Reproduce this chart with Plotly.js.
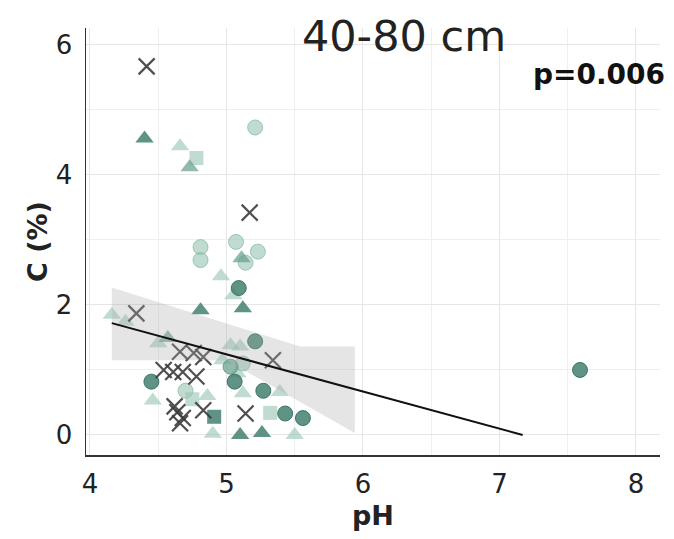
<!DOCTYPE html>
<html>
<head>
<meta charset="utf-8">
<script src="https://cdn.plot.ly/plotly-3.0.1.min.js"></script>
<style>html,body{margin:0;padding:0;background:#fff;}#chart{width:674px;height:539px;}</style>
</head>
<body>
<div id="chart"></div>
<script>
// ---- data (pH vs C %) ----
const xTickVals = [4, 5, 6, 7, 8];
const yTickVals = [0, 2, 4, 6];

const lightTriPH = [4.66, 4.96, 4.16, 4.26, 4.50, 4.46, 5.12, 5.39, 4.90, 5.50, 5.05, 5.03, 5.10, 4.97, 5.08, 4.86];
const lightTriC  = [4.44, 2.44, 1.85, 1.74, 1.41, 0.53, 0.64, 0.66, 0.02, 0.00, 2.15, 1.38, 1.36, 1.15, 0.95, 0.60];

const medTriPH = [4.73, 5.11, 4.57];
const medTriC  = [4.12, 2.72, 1.49];

const darkTriPH = [4.40, 4.81, 5.12, 5.10, 5.26];
const darkTriC  = [4.56, 1.92, 1.95, 0.00, 0.03];

const lightCirPH = [5.21, 4.81, 4.81, 5.07, 5.23, 5.14, 4.70, 5.12];
const lightCirC  = [4.73, 2.89, 2.69, 2.97, 2.82, 2.65, 0.68, 1.10];

const medCirPH = [5.03];
const medCirC  = [1.05];

const darkCirPH = [5.09, 5.21, 4.45, 5.06, 5.27, 5.43, 5.56, 7.59];
const darkCirC  = [2.26, 1.44, 0.82, 0.82, 0.68, 0.33, 0.26, 1.00];

const lightSqPH = [4.78, 5.32, 4.75];
const lightSqC  = [4.26, 0.34, 0.55];
const darkSqPH = [4.91];
const darkSqC  = [0.28];

const crossPH = [4.415, 5.17, 4.34, 4.66, 4.76, 4.83, 4.54, 4.61, 4.68, 4.78, 5.34, 4.64, 4.68, 4.66, 4.62, 4.83, 5.14];
const crossC  = [5.67, 3.42, 1.87, 1.28, 1.26, 1.20, 1.00, 0.97, 0.97, 0.90, 1.15, 0.35, 0.26, 0.18, 0.44, 0.38, 0.33];

// regression line and its confidence band
const fitPH = [4.16, 7.17];
const fitC  = [1.72, 0.0];
const bandPH = [4.16, 5.54, 5.94, 5.94, 5.00, 4.16, 4.16];
const bandC  = [2.27, 1.36, 1.36, 0.03, 1.15, 1.15, 2.27];

const titleText = "40-80 cm";
const pText = "p=0.006";

// ---- styles ----
const cLight = 'rgba(150,196,178,0.6)';
const cMed = 'rgba(104,160,142,0.72)';
const cDark = 'rgba(66,128,112,0.85)';

function pts(x, y, symbol, color, size, lineColor) {
  return {
    type: 'scatter', mode: 'markers', x: x, y: y, showlegend: false, hoverinfo: 'skip',
    marker: {symbol: symbol, size: size, color: color,
             line: {width: lineColor ? 1 : 0, color: lineColor || color}}
  };
}

const traces = [
  pts(lightTriPH, lightTriC, 'triangle-up', cLight, 16),
  pts(lightCirPH, lightCirC, 'circle', cLight, 15, 'rgba(130,180,162,0.7)'),
  pts(lightSqPH, lightSqC, 'square', cLight, 14),
  pts(medTriPH, medTriC, 'triangle-up', cMed, 16),
  pts(medCirPH, medCirC, 'circle', cMed, 15, 'rgba(90,145,128,0.8)'),
  pts(darkTriPH, darkTriC, 'triangle-up', cDark, 16),
  pts(darkCirPH, darkCirC, 'circle', cDark, 15, 'rgba(50,110,95,0.9)'),
  pts(darkSqPH, darkSqC, 'square', cDark, 14),
  {
    type: 'scatter', mode: 'markers', x: crossPH, y: crossC, showlegend: false, hoverinfo: 'skip',
    marker: {symbol: 'x-thin-open', size: 16, color: 'rgba(60,60,60,0.9)', line: {width: 2.2, color: 'rgba(60,60,60,0.9)'}}
  },
  {
    type: 'scatter', mode: 'lines', x: bandPH, y: bandC, fill: 'toself',
    fillcolor: 'rgba(170,170,170,0.3)', line: {width: 0}, showlegend: false, hoverinfo: 'skip'
  },
  {
    type: 'scatter', mode: 'lines', x: fitPH, y: fitC, line: {color: '#111', width: 2},
    showlegend: false, hoverinfo: 'skip'
  }
];

const font = 'DejaVu Sans, Arial, sans-serif';
const layout = {
  width: 674, height: 539,
  margin: {l: 86, r: 14, t: 28, b: 84, pad: 0},
  paper_bgcolor: '#fff', plot_bgcolor: '#fff',
  showlegend: false,
  font: {family: font, color: '#222'},
  title: {text: titleText, font: {family: font, size: 43, color: '#222'},
          xref: 'paper', x: 0.554, xanchor: 'center', yref: 'container', y: 0.933, yanchor: 'middle'},
  xaxis: {
    range: [3.971, 8.176], tickvals: xTickVals, ticks: '', showline: true, linecolor: '#333', linewidth: 1.5,
    showgrid: true, gridcolor: '#e6e6e6', gridwidth: 1, zeroline: false,
    minor: {dtick: 0.5, showgrid: true, gridcolor: '#efefef', gridwidth: 1},
    tickfont: {family: font, size: 26, color: '#222'}, ticklabelstandoff: 5,
    title: {text: '<b>pH</b>', font: {family: font, size: 27, color: '#222'}, standoff: 8}
  },
  yaxis: {
    range: [-0.308, 6.26], tickvals: yTickVals, ticks: '', showline: true, linecolor: '#333', linewidth: 1.5,
    showgrid: true, gridcolor: '#e6e6e6', gridwidth: 1, zeroline: false,
    minor: {dtick: 1, showgrid: true, gridcolor: '#efefef', gridwidth: 1},
    tickfont: {family: font, size: 26, color: '#222'}, ticklabelstandoff: 7,
    title: {text: '<b>C (%)</b>', font: {family: font, size: 27, color: '#222'}, standoff: 0}
  },
  annotations: [{
    text: '<b>' + pText + '</b>', xref: 'paper', yref: 'paper', x: 1.012, y: 0.89,
    xanchor: 'right', yanchor: 'middle', showarrow: false,
    font: {family: font, size: 28, color: '#111'}
  }]
};

Plotly.newPlot('chart', traces, layout, {staticPlot: true, displayModeBar: false});
</script>
</body>
</html>
